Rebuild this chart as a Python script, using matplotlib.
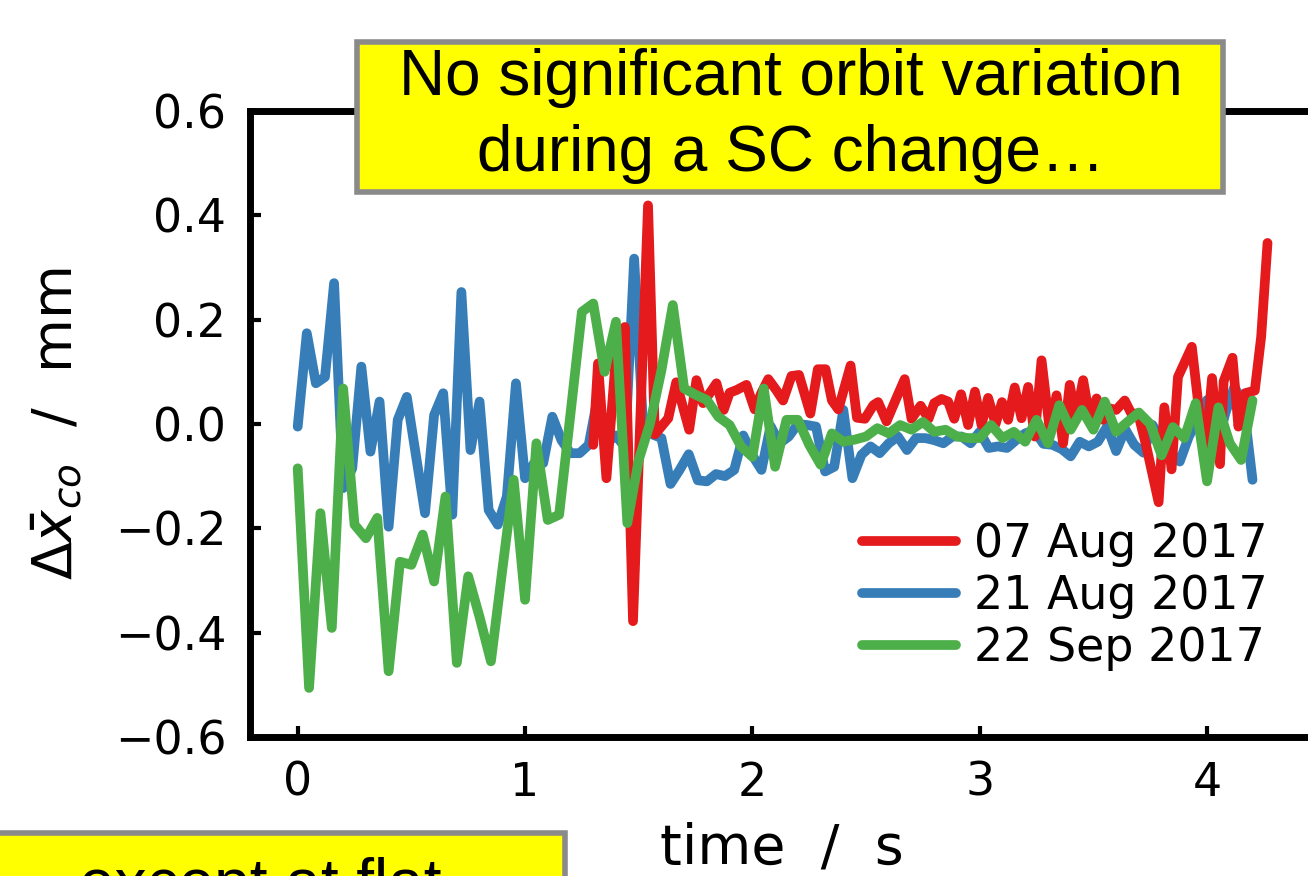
import numpy as np
import matplotlib
matplotlib.use("Agg")
import matplotlib.pyplot as plt
from matplotlib.patches import Rectangle

plt.rcParams['font.family'] = ['DejaVu Sans']
plt.rcParams['mathtext.fontset'] = 'dejavusans'

# 07 Aug 2017 (red)
t_aug07 = [1.300, 1.321, 1.358, 1.399, 1.420, 1.439, 1.475, 1.541, 1.571, 1.630,
           1.665, 1.722, 1.754, 1.783, 1.842, 1.874, 1.900, 1.930, 1.974, 2.010,
           2.040, 2.070, 2.105, 2.135, 2.172, 2.205, 2.255, 2.288, 2.322, 2.350,
           2.378, 2.432, 2.460, 2.495, 2.532, 2.553, 2.590, 2.634, 2.670, 2.700,
           2.740, 2.775, 2.800, 2.832, 2.861, 2.888, 2.918, 2.949, 2.979, 3.008,
           3.037, 3.070, 3.098, 3.125, 3.154, 3.184, 3.213, 3.242, 3.272, 3.308,
           3.338, 3.367, 3.396, 3.423, 3.455, 3.484, 3.514, 3.543, 3.570, 3.600,
           3.638, 3.667, 3.697, 3.733, 3.787, 3.812, 3.844, 3.872, 3.933, 3.990,
           4.022, 4.057, 4.073, 4.112, 4.138, 4.167, 4.210, 4.238, 4.266]
x_aug07 = [-0.040, 0.116, -0.104, 0.125, 0.050, 0.186, -0.378, 0.419, -0.020, 0.011,
           0.080, -0.011, 0.084, 0.040, 0.078, 0.027, 0.060, 0.065, 0.075, 0.028,
           0.060, 0.086, 0.065, 0.045, 0.092, 0.094, 0.020, 0.105, 0.105, 0.045,
           0.028, 0.112, 0.012, 0.010, 0.036, 0.042, 0.005, 0.050, 0.086, 0.010,
           0.035, 0.010, 0.040, 0.048, 0.043, 0.010, 0.057, -0.002, 0.062, -0.002,
           0.050, 0.000, 0.042, 0.008, 0.070, 0.011, 0.071, -0.024, 0.122, -0.011,
           0.055, -0.037, 0.075, 0.011, 0.084, 0.011, 0.049, 0.008, 0.030, 0.027,
           0.045, 0.020, 0.020, -0.043, -0.150, 0.032, -0.087, 0.090, 0.148, -0.070,
           0.088, -0.077, 0.082, 0.127, -0.005, 0.059, 0.064, 0.167, 0.347]

# 21 Aug 2017 (blue), one sample every 0.04 s from 0 to 4.2 s
t_aug21 = np.linspace(0, 4.2, 106)
x_aug21 = [-0.005, 0.174, 0.078, 0.090, 0.270, -0.123, -0.085, 0.110, -0.053, 0.043,
           -0.197, 0.008, 0.052, -0.060, -0.171, 0.017, 0.059, -0.174, 0.253, -0.050,
           0.043, -0.165, -0.193, -0.139, 0.078, -0.104, -0.075, -0.075, 0.014, -0.031,
           -0.056, -0.056, -0.040, 0.052, -0.037, -0.022, -0.045, 0.317, -0.010, -0.020,
           -0.027, -0.115, -0.088, -0.058, -0.108, -0.110, -0.096, -0.100, -0.088, -0.022,
           -0.060, -0.088, -0.004, -0.037, -0.024, 0.000, -0.002, -0.005, -0.091, -0.082,
           0.027, -0.104, -0.059, -0.043, -0.056, -0.037, -0.024, -0.050, -0.027, -0.027,
           -0.031, -0.037, -0.024, -0.024, -0.037, -0.015, -0.046, -0.043, -0.046, -0.031,
           -0.018, -0.012, -0.038, -0.040, -0.048, -0.062, -0.034, -0.043, -0.034, -0.005,
           -0.052, -0.010, -0.040, -0.055, -0.002, -0.030, -0.055, -0.072, -0.024, 0.010,
           0.046, -0.050, 0.020, 0.071, 0.040, -0.107]

# 22 Sep 2017 (green), one sample every 0.05 s from 0 to 4.2 s
t_sep22 = np.linspace(0, 4.2, 85)
x_sep22 = [-0.085, -0.506, -0.171, -0.391, 0.068, -0.193, -0.219, -0.180, -0.474, -0.264,
           -0.270, -0.212, -0.302, -0.139, -0.458, -0.292, -0.370, -0.455, -0.280, -0.107,
           -0.337, -0.037, -0.184, -0.174, 0.020, 0.215, 0.231, 0.100, 0.196, -0.190,
           -0.069, 0.001, 0.103, 0.228, 0.068, 0.056, 0.046, 0.014, -0.002, -0.043,
           -0.063, 0.068, -0.082, 0.008, 0.008, -0.040, -0.078, -0.018, -0.034, -0.030,
           -0.024, -0.008, -0.018, -0.002, -0.011, 0.004, -0.015, -0.011, -0.024, -0.027,
           -0.027, -0.002, -0.027, -0.015, -0.034, 0.008, -0.037, 0.036, -0.011, 0.027,
           -0.011, 0.043, -0.015, 0.004, 0.022, 0.000, -0.060, -0.006, -0.027, 0.040,
           -0.110, 0.032, -0.037, -0.069, 0.045]

labels = ["07 Aug 2017", "21 Aug 2017", "22 Sep 2017"]
colors = ["#e41a1c", "#377eb8", "#4daf4a"]

fig = plt.figure(figsize=(13.08, 8.76), dpi=100)
ax = fig.add_axes([0.1911, 0.1587, 0.836, 0.7146])

ax.plot(t_aug07, x_aug07, color=colors[0], lw=7, label=labels[0],
        solid_joinstyle='round', solid_capstyle='round', zorder=3)
ax.plot(t_aug21, x_aug21, color=colors[1], lw=7, label=labels[1],
        solid_joinstyle='round', solid_capstyle='round', zorder=2)
ax.plot(t_sep22, x_sep22, color=colors[2], lw=7, label=labels[2],
        solid_joinstyle='round', solid_capstyle='round', zorder=4)

ax.set_xlim(-0.21, 4.6)
ax.set_ylim(-0.6, 0.6)
ax.set_xticks([0, 1, 2, 3, 4])
ax.set_yticks([-0.6, -0.4, -0.2, 0.0, 0.2, 0.4, 0.6])
ax.set_yticklabels(["\u22120.6", "\u22120.4", "\u22120.2", "0.0", "0.2", "0.4", "0.6"])
ax.tick_params(direction='in', length=8, width=3, labelsize=33, pad=17,
               top=False, right=False)
for s in ax.spines.values():
    s.set_linewidth(5)

ax.set_xlabel("time  /  s", fontsize=40)
ax.xaxis.set_label_coords(0.4865, -0.135)
ax.set_ylabel(r"$\Delta\bar{x}_{co}$  /  mm", fontsize=40)
ax.yaxis.set_label_coords(-0.152, 0.5)

ax.legend(loc='upper left', bbox_to_anchor=(862 / 1308, 1 - 522 / 876),
          bbox_transform=fig.transFigure, frameon=False, fontsize=33,
          borderpad=0, borderaxespad=0, handlelength=2.05, handletextpad=0.4,
          labelspacing=0.15)

# yellow note boxes
box1 = Rectangle((357 / 1308, 1 - 192 / 876), 866 / 1308, 150 / 876,
                 transform=fig.transFigure, facecolor='#ffff00',
                 edgecolor='#8a8a8a', linewidth=4, zorder=10)
fig.add_artist(box1)
fig.text(791 / 1308, 1 - 116 / 876, "No significant orbit variation\nduring a SC change\u2026",
         ha='center', va='center', fontsize=46, family='Liberation Sans',
         linespacing=1.36, zorder=11)

box2 = Rectangle((-10 / 1308, -0.1), 575 / 1308, 0.1 + 43 / 876,
                 transform=fig.transFigure, facecolor='#ffff00',
                 edgecolor='#8a8a8a', linewidth=4, zorder=10)
fig.add_artist(box2)
fig.text(260 / 1308, 1 - 904 / 876, "except at flat",
         ha='center', va='baseline', fontsize=46, family='Liberation Sans', zorder=11)

fig.savefig("out.png", dpi=100)
